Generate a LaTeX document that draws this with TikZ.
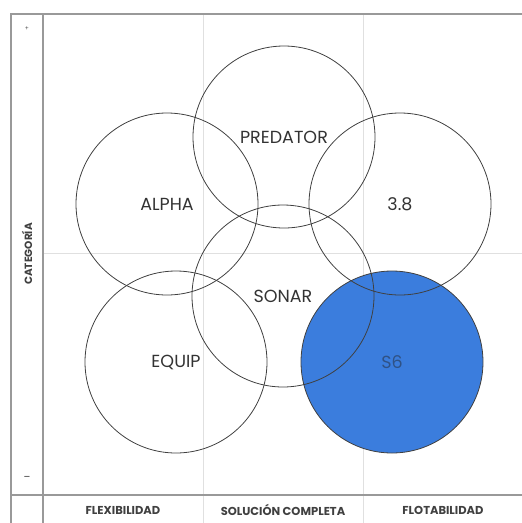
\documentclass[tikz,border=0pt]{standalone}
\usepackage{fontspec}
\setmainfont{Poppins}
\definecolor{sixblue}{HTML}{3B7DDD}
\definecolor{sixtext}{HTML}{2F5286}
\begin{document}
\begin{tikzpicture}[x=1pt,y=-1pt,
  ring/.style={circle,draw=black!75,line width=0.8pt,minimum size=182pt,inner sep=0pt,
    font=\fontsize{17.5}{17.5}\selectfont,text=black!80},
  frameline/.style={draw=black!40,line width=1.4pt},
  gridline/.style={draw=black!12,line width=0.7pt},
  axislabel/.style={font=\fontsize{11.5}{11.5}\selectfont\bfseries,text=black!75}]
\useasboundingbox (0,0) rectangle (522,523);

% grid
\draw[gridline] (203,14) -- (203,523);
\draw[gridline] (363,14) -- (363,523);
\draw[gridline] (43,253) -- (522,253);

% frame
\draw[frameline] (11,523) -- (11,14) -- (522,14);
\draw[frameline] (43,14) -- (43,523);
\draw[frameline] (11,495) -- (522,495);

% circles
\node[ring,fill=sixblue,text=sixtext] (s6) at (392,362) {S6};
\node[ring] (alpha) at (167,204) {ALPHA};
\node[ring] (predator) at (284,137) {PREDATOR};
\node[ring] (v38) at (400,204) {3.8};
\node[ring] (sonar) at (283,296) {SONAR};
\node[ring] (equip) at (176,362) {EQUIP};

% axes
\node[axislabel,rotate=90,font=\fontsize{10.5}{10.5}\selectfont\bfseries] (cat) at (27,254) {CATEGORÍA};
\node[font=\fontsize{6}{6}\selectfont,text=black!70] (plus) at (27,29) {+};
\node[font=\fontsize{10}{10}\selectfont,text=black!80] (minus) at (27,478) {–};
\node[axislabel] (flex) at (123,510) {FLEXIBILIDAD};
\node[axislabel] (sol) at (283,510) {SOLUCIÓN COMPLETA};
\node[axislabel] (flot) at (443,510) {FLOTABILIDAD};
\end{tikzpicture}
\end{document}
